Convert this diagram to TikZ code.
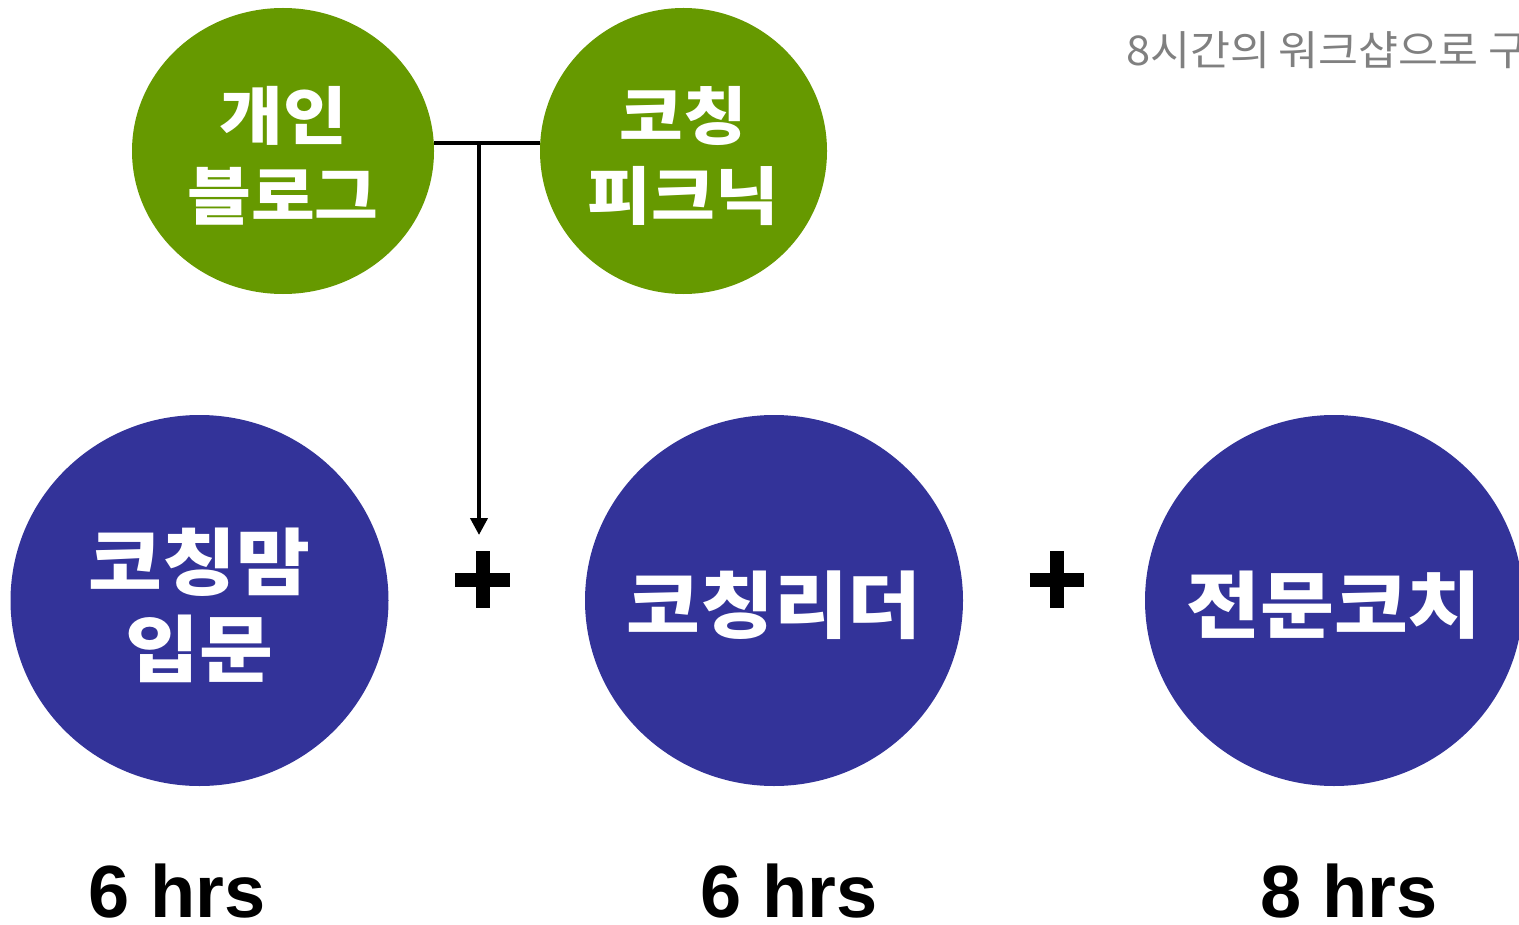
\documentclass[tikz,border=0pt]{standalone}
\usepackage{fontspec}
\setmainfont{Liberation Sans}
\newfontfamily\kr{Noto Sans CJK KR}[FakeStretch=1.1]
\newfontfamily\krcap{Noto Sans CJK KR}[FakeStretch=1.06]
\usetikzlibrary{shapes.geometric,arrows.meta,calc}
\definecolor{cgreen}{HTML}{669900}
\definecolor{cblue}{HTML}{333399}
\definecolor{cgray}{HTML}{808080}
\tikzset{
  gcirc/.style={ellipse, fill=cgreen, inner sep=0pt},
  bcirc/.style={ellipse, fill=cblue, inner sep=0pt,
    minimum width=189pt, minimum height=185.5pt},
  gtext/.style={inner sep=0pt, text=white, align=center,
    font=\kr\bfseries\fontsize{31.5pt}{40pt}\selectfont},
  btext/.style={inner sep=0pt, text=white, align=center,
    font=\kr\bfseries\fontsize{36.5pt}{43.5pt}\selectfont},
  hrs/.style={anchor=base, inner sep=0pt, font=\bfseries\fontsize{37pt}{40pt}\selectfont},
  plusbox/.style={minimum width=27pt, minimum height=28pt, inner sep=0pt},
  plusbar/.style={line width=7pt},
  conn/.style={line width=2pt},
}
\begin{document}
\begin{tikzpicture}[x=0.5pt,y=-0.5pt]
\useasboundingbox (0,0) rectangle (1519,925);
% gray partial caption
\node[anchor=base west, inner sep=0pt, text=cgray, font=\krcap\fontsize{20.5pt}{24pt}\selectfont] (cap) at (1126,66) {8시간의\hspace{4pt}워크샵으로\hspace{5pt}구};
% green circles
\node[gcirc, minimum width=151pt, minimum height=143pt] (blog) at (283,151) {};
\node[gtext] (blogt) at ($(blog)+(0,5)$) {개인\\블로그};
\node[gcirc, minimum width=143.5pt, minimum height=143pt] (picnic) at (683.5,151) {};
\node[gtext] (picnict) at ($(picnic)+(0,5)$) {코칭\\피크닉};
% blue circles
\node[bcirc] (intro) at (199.5,600.5) {};
\node[btext] (introt) at ($(intro)+(0,5)$) {코칭맘\\입문};
\node[bcirc] (leader) at (774,600.5) {};
\node[btext] (leadert) at ($(leader)+(0,5)$) {코칭리더};
\node[bcirc] (pro) at (1334,600.5) {};
\node[btext] (prot) at ($(pro)+(0,5)$) {전문코치};
% plus signs
\node[plusbox] (plus1) at (482.5,579.5) {};
\draw[plusbar] (plus1.west) -- (plus1.east) (plus1.north) -- (plus1.south);
\node[plusbox] (plus2) at (1057,579.5) {};
\draw[plusbar] (plus2.west) -- (plus2.east) (plus2.north) -- (plus2.south);
% connector
\coordinate (j) at (479,143);
\draw[conn] (j -| blog.east) -- (j -| picnic.west);
\coordinate (tip) at (479,535);
\draw[conn, -{Triangle[length=8.5pt,width=8.5pt]}] (j) -- (tip);
% hours
\node[hrs] (h1) at (177,917) {6 hrs};
\node[hrs] (h2) at (789,917) {6 hrs};
\node[hrs] (h3) at (1349,917) {8 hrs};
\end{tikzpicture}
\end{document}
